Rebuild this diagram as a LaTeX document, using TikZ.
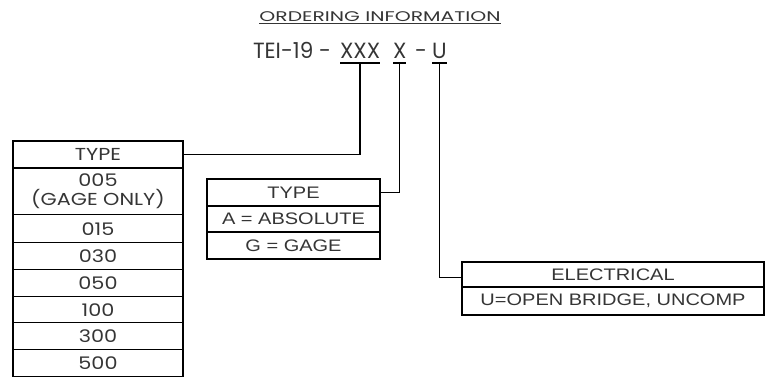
\documentclass[tikz,border=0pt]{standalone}
\usepackage{fontspec}
\usepackage{tikz}
\usetikzlibrary{positioning}
\newfontfamily\gothic[FakeStretch=1.2]{Poppins}
\newfontfamily\gothicwide[FakeStretch=1.45]{Poppins}
\newfontfamily\gothicnarrow[FakeStretch=0.98]{Poppins}
\newfontfamily\arialish[FakeStretch=1.2]{Liberation Sans}
\definecolor{inkgray}{HTML}{353535}
\tikzset{
    cell/.style = {draw=black, line width=0.9pt, rectangle, inner sep=0pt, outer sep=0pt, text=inkgray},
    type-row/.style = {cell, minimum width=127.5pt, minimum height=20.2pt, font=\gothic\fontsize{13}{13.5}\selectfont},
    arial-row/.style = {cell, font=\arialish\fontsize{12.5}{13}\selectfont},
    code-part/.style = {inner sep=0pt, outer sep=0pt, anchor=base west, text=inkgray, font=\gothicnarrow\fontsize{16.5}{17}\selectfont},
    lead/.style = {draw=black, line width=0.9pt},
}

\begin{document}
\begin{tikzpicture}[x=0.75pt, y=-0.75pt]
\useasboundingbox (0,0) rectangle (765,379);

% heading
\node[code-part, anchor=base, font=\gothicwide\fontsize{10.5}{11}\selectfont] (heading) at (380,21) {\underline{ORDERING INFORMATION}};
\node[code-part] (prefix) at (253,58) {TEI-19 -};
\node[code-part] (range) at (340,58) {XXX};
\node[code-part] (mode) at (393,58) {X};
\node[code-part] (dash) at (415,58) {-};
\node[code-part] (elec) at (432,58) {U};
\foreach \part in {range, mode, elec}
    \draw[lead] ([yshift=-3.75pt]\part.base west) -- ([yshift=-3.75pt]\part.base east);

% pressure range
\node[type-row, anchor=north west] (rangehead) at (13,141) {TYPE};
\node[type-row, below=0pt of rangehead, minimum height=35.2pt, align=center] (r005) {005\\[1pt](GAGE ONLY)};
\node[type-row, below=0pt of r005, minimum height=21pt] (r015) {015};
\node[type-row, below=0pt of r015] (r030) {030};
\node[type-row, below=0pt of r030] (r050) {050};
\node[type-row, below=0pt of r050, minimum height=19.6pt] (r100) {100};
\node[type-row, below=0pt of r100] (r300) {300};
\node[type-row, below=0pt of r300] (r500) {500};

% absolute / gage
\node[arial-row, anchor=north west, minimum width=129.75pt, minimum height=20.2pt] (modehead) at (207,179) {TYPE};
\node[arial-row, below=0pt of modehead, minimum width=129.75pt, minimum height=19.6pt] (absolute) {A = ABSOLUTE};
\node[arial-row, below=0pt of absolute, minimum width=129.75pt, minimum height=20.2pt] (gage) {G = GAGE};

% electrical
\node[arial-row, anchor=north west, minimum width=226.5pt, minimum height=18.8pt] (elechead) at (462,262) {ELECTRICAL};
\node[arial-row, below=0pt of elechead, minimum width=226.5pt, minimum height=21pt] (bridge) {U=OPEN BRIDGE, UNCOMP};

% leaders
\draw[lead] (rangehead.east) -| ([yshift=-3.75pt]range.base);
\draw[lead] (modehead.east) -| ([yshift=-3.75pt]mode.base);
\draw[lead] ([yshift=-2pt]elechead.west) -| ([yshift=-3.75pt]elec.base);
\end{tikzpicture}
\end{document}
